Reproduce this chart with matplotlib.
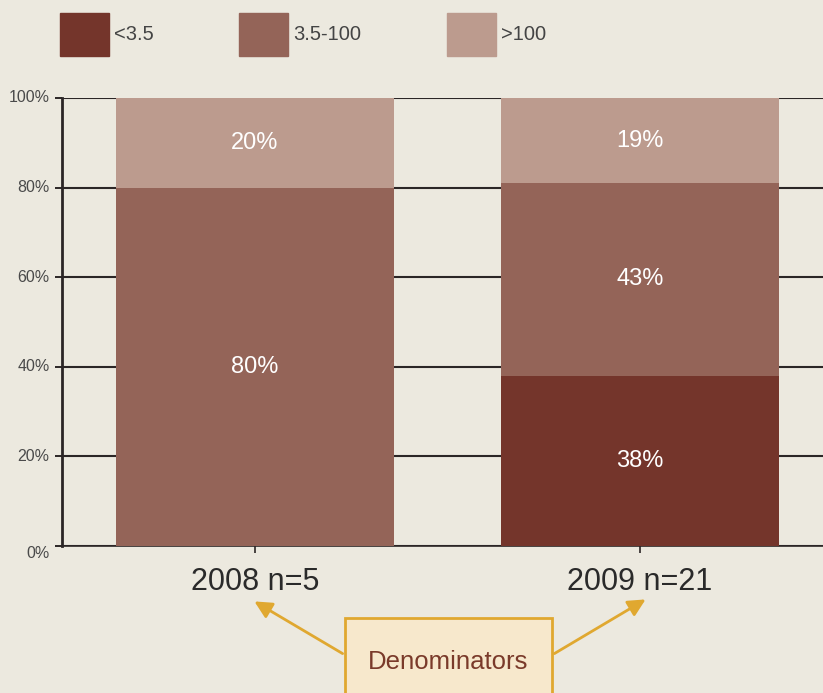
import matplotlib.pyplot as plt
from matplotlib.patches import Rectangle, FancyArrowPatch

years = ["2008 n=5", "2009 n=21"]
categories = ["<3.5", "3.5-100", ">100"]
low = [0, 38]
mid = [80, 43]
high = [20, 19]
colors = ["#74352b", "#946458", "#bc9b8e"]
bg = "#ece9df"

plt.rcParams['font.family'] = ['Liberation Sans', 'DejaVu Sans']

fig = plt.figure(figsize=(8.23, 6.93), dpi=100, facecolor=bg)
ax = fig.add_axes([62/823, 147/693, 761/823, 448/693])
ax.set_facecolor(bg)

x = [0, 1]
w = 0.722
series = [low, mid, high]
bottom = [0, 0]
for vals, c in zip(series, colors):
    ax.bar(x, vals, w, bottom=bottom, color=c, zorder=3)
    for xi, v, b in zip(x, vals, bottom):
        if v > 0:
            ax.text(xi, b + v / 2, f"{v}%", ha="center", va="center",
                    color="white", fontsize=17, zorder=4)
    bottom = [b + v for b, v in zip(bottom, vals)]

ax.set_xlim(-0.501, 1.475)
ax.set_ylim(0, 100)
ax.set_yticks([0, 20, 40, 60, 80, 100])
ax.set_yticklabels([f"{t}%" for t in [0, 20, 40, 60, 80, 100]],
                   fontsize=11.5, color="#4a4a4a")
ax.tick_params(axis="y", length=5, width=1.4, color="#2b2626", pad=4)
for lbl in ax.get_yticklabels():
    lbl.set_verticalalignment("top" if lbl.get_text() == "0%" else "center")
ax.grid(axis="y", color="#2b2626", linewidth=1.5, zorder=1)
ax.set_xticks(x)
ax.set_xticklabels(years, fontsize=22, color="#2a2a2a")
ax.tick_params(axis="x", length=5, width=1.2, color="#2b2626", pad=10)
for s in ["top", "right"]:
    ax.spines[s].set_visible(False)
ax.spines["left"].set_color("#2b2626")
ax.spines["left"].set_linewidth(2)
ax.spines["bottom"].set_color("#2b2626")
ax.spines["bottom"].set_linewidth(1.2)

# legend
W, H = 823, 693
lx = [60, 239, 447]
for px, c, lab in zip(lx, colors, categories):
    fig.patches.append(Rectangle((px / W, 1 - 56 / H), 49 / W, 43 / H,
                                 transform=fig.transFigure, color=c))
    fig.text((px + 54) / W, 1 - 34 / H, lab, fontsize=14.5, color="#444444",
             va="center", ha="left")

# annotation box
fig.patches.append(Rectangle((345 / W, -0.02), 207 / W, (693 - 618) / H + 0.02,
                             transform=fig.transFigure, facecolor="#f7e8cc",
                             edgecolor="#e0a830", linewidth=2))
fig.text(448 / W, 1 - 662 / H, "Denominators", fontsize=18.5, color="#7a3a2a",
         ha="center", va="center")
for (x0, y0), (x1, y1) in [((345, 655), (252, 600)), ((552, 655), (648, 598))]:
    arr = FancyArrowPatch((x0 / W, 1 - y0 / H), (x1 / W, 1 - y1 / H),
                          transform=fig.transFigure, arrowstyle="-|>",
                          mutation_scale=26, color="#e0a830", linewidth=2)
    fig.patches.append(arr)

fig.savefig("out.png", dpi=100, facecolor=bg)
